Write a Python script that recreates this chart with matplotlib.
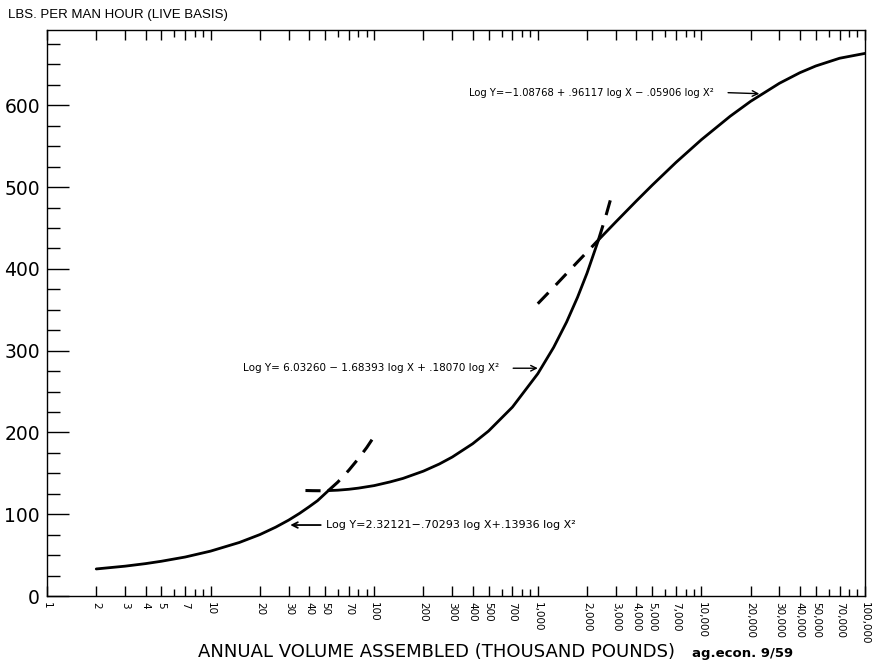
"""
Labor efficiency curve: pounds per man hour vs annual volume assembled.
Three fitted log-quadratic segments, with dashed extensions past the joins.
"""

import matplotlib
matplotlib.use("Agg")
import matplotlib.pyplot as plt

# --- values (x in thousand pounds, y in lbs per man hour) ---

# small plants, solid
seg1_x = [2, 3, 4, 5, 7, 10, 15, 20, 25, 30, 35, 40, 45, 52.5]
seg1_y = [33.1, 36.5, 39.6, 42.5, 47.7, 54.9, 65.5, 75.1, 84.2, 92.8, 101.1, 109.1, 116.5, 128.9]

# small-plant curve carried past the join, dashed
seg1_ext_x = [52.5, 60, 70, 80, 90, 100]
seg1_ext_y = [128.9, 139.4, 153.8, 167.9, 181.5, 195.2]

# middle plants, solid
seg2_x = [52.5, 60, 70, 80, 100, 125, 150, 200, 250, 300, 400, 500, 700,
          1000, 1250, 1500, 1750, 2000, 2350]
seg2_y = [128.9, 129.4, 130.5, 131.9, 135.0, 139.5, 143.8, 152.7, 161.4, 169.9,
          186.2, 201.7, 231.0, 271.8, 304.0, 335.0, 365.3, 394.8, 435.4]

# middle curve extended both ways, dashed
seg2_lo_x = [38, 42, 47]
seg2_lo_y = [129.0, 128.8, 128.7]
seg2_hi_x = [2350, 2600, 2850]
seg2_hi_y = [435.4, 463.9, 492.0]

# large plants, solid
seg3_x = [2350, 3000, 4000, 5000, 7000, 10000, 15000, 20000, 30000, 40000,
          50000, 70000, 100000]
seg3_y = [435.4, 457.4, 482.9, 502.2, 530.2, 557.9, 586.6, 604.8, 626.9, 639.8,
          648.0, 657.5, 663.4]

# large-plant curve carried back, dashed
seg3_ext_x = [1000, 1250, 1500, 1750, 2000, 2350]
seg3_ext_y = [357.4, 377.5, 394.3, 408.5, 420.6, 435.4]

x_ticks = [1, 2, 3, 4, 5, 7, 10, 20, 30, 40, 50, 70, 100, 200, 300, 400, 500, 700,
           1000, 2000, 3000, 4000, 5000, 7000, 10000, 20000, 30000, 40000, 50000,
           70000, 100000]
x_minor = [6, 8, 9, 60, 80, 90, 600, 800, 900, 6000, 8000, 9000, 60000, 80000, 90000]
y_ticks = [0, 100, 200, 300, 400, 500, 600]

eq1 = "Log Y=2.32121\u2212.70293 log X+.13936 log X\u00b2"
eq2 = "Log Y= 6.03260 \u2212 1.68393 log X + .18070 log X\u00b2"
eq3 = "Log Y=\u22121.08768 + .96117 log X \u2212 .05906 log X\u00b2"


def main():
    fig = plt.figure(figsize=(8.77, 6.61), dpi=100)
    ax = fig.add_axes([0.0536, 0.0983, 0.9327, 0.8563])

    solid = dict(color="black", lw=2.0, solid_capstyle="round")
    dashed = dict(color="black", lw=2.2, linestyle=(0, (5, 3.5)))

    ax.plot(seg1_x, seg1_y, **solid)
    ax.plot(seg2_x, seg2_y, **solid)
    ax.plot(seg3_x, seg3_y, **solid)
    ax.plot(seg1_ext_x, seg1_ext_y, **dashed)
    ax.plot(seg2_lo_x, seg2_lo_y, **dashed)
    ax.plot(seg2_hi_x, seg2_hi_y, **dashed)
    ax.plot(seg3_ext_x, seg3_ext_y, **dashed)

    ax.set_xscale("log")
    ax.set_xlim(1, 100000)
    ax.set_ylim(0, 692)

    # x axis ticks, labels rotated to read downward
    ax.set_xticks(x_ticks)
    ax.set_xticklabels([f"{v:,}" for v in x_ticks], rotation=270, fontsize=7.5,
                       va="top", ha="center")
    ax.set_xticks(x_minor, minor=True)
    ax.tick_params(axis="x", which="major", direction="in", length=7, width=1,
                   top=True, pad=4)
    ax.tick_params(axis="x", which="minor", direction="in", length=5, width=1,
                   top=True)

    ax.set_yticks(y_ticks)
    ax.set_yticks([v for v in range(25, 700, 25) if v % 100], minor=True)
    ax.tick_params(axis="y", which="major", direction="in", length=16, width=1,
                   labelsize=13.5, pad=5)
    ax.tick_params(axis="y", which="minor", direction="in", length=9, width=1)

    for s in ax.spines.values():
        s.set_linewidth(1.0)

    # equation notes with arrows
    ax.text(50.5, 86.8, eq1, fontsize=8, va="center", ha="left")
    ax.annotate("", xy=(29.5, 86.8), xytext=(49, 86.8),
                arrowprops=dict(arrowstyle="->", color="black", lw=1.3))

    ax.text(15.8, 278.5, eq2, fontsize=7.5, va="center", ha="left")
    ax.annotate("", xy=(1040, 278.5), xytext=(680, 278.5),
                arrowprops=dict(arrowstyle="->", color="black", lw=1.0))

    ax.text(380, 615.5, eq3, fontsize=7.2, va="center", ha="left")
    ax.annotate("", xy=(23500, 614), xytext=(14000, 615.5),
                arrowprops=dict(arrowstyle="->", color="black", lw=1.0))

    fig.text(0.009, 0.987, "LBS. PER MAN HOUR (LIVE BASIS)", fontsize=9.5,
             family=["Liberation Sans", "DejaVu Sans"], va="top", ha="left")
    fig.text(0.226, 0.006, "ANNUAL VOLUME ASSEMBLED (THOUSAND POUNDS)",
             fontsize=13, va="baseline", ha="left")
    fig.text(0.789, 0.006, "ag.econ. 9/59", fontsize=9.5, fontweight="bold",
             va="baseline", ha="left")

    fig.savefig("out.png", dpi=100)
    plt.close(fig)


if __name__ == "__main__":
    main()
